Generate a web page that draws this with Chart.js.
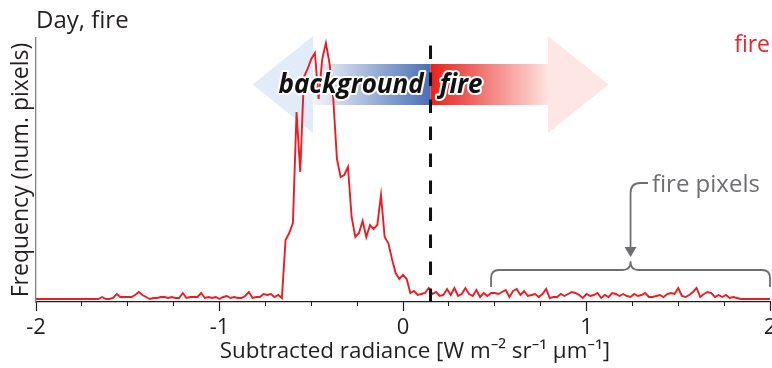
<!DOCTYPE html>
<html>
<head>
<meta charset="utf-8">
<script src="https://cdn.jsdelivr.net/npm/chart.js@4.4.1/dist/chart.umd.min.js"></script>
<style>
  html, body { margin: 0; padding: 0; background: #fff; }
  #wrap { width: 772px; height: 368px; }
</style>
</head>
<body>
<div id="wrap"><canvas id="chart" width="772" height="368"></canvas></div>
<script>
// Histogram of subtracted radiance, 0.02-wide bins from -2 to 2
const binStart = -2;
const binWidth = 0.02;
const pixelCounts = [
  0, 0, 0, 0, 0, 0, 0, 0, 0, 0, 0, 0, 0, 0, 0, 0, 0, 0,
  2, 0, 0, 1, 5, 2, 2, 2, 2, 4, 7, 4, 2, 0, 1, 1, 2, 2, 1, 2, 1, 1, 6, 1, 2, 2, 2, 6, 1, 2, 1, 2,
  0, 2, 3, 1, 2, 1, 1, 3, 7, 1, 2, 2, 5, 4, 5, 2, 4, 1,
  59, 66, 76, 187, 127, 222, 230, 240, 246, 200, 240, 256, 235, 200, 140, 122, 124, 132,
  82, 62, 66, 78, 62, 74, 70, 74, 104, 62, 56, 40, 26, 20, 24, 20, 6, 8,
  4, 5, 6, 11, 5, 7, 3, 4, 10, 4, 11, 3, 5, 11, 5, 3, 9, 2, 6, 3, 6, 6, 5, 7, 9, 2, 8, 10, 4, 8,
  3, 4, 5, 2, 5, 10, 1, 2, 2, 5, 3, 5, 7, 6, 4, 1, 5, 3, 4, 6, 1, 4, 2, 6, 5, 3, 5, 3, 2, 5, 3, 4, 6, 2,
  2, 3, 4, 2, 5, 6, 5, 11, 3, 2, 4, 7, 11, 2, 5, 7, 6, 2, 4, 2, 4, 1, 2, 1,
  0, 0, 0, 0, 0, 0, 0, 0, 0
];
const xMajorTicks = [-2, -1, 0, 1, 2];
const thresholdRadiance = 0.15;

// annotation anchors, in data units
const bgArrow = { tip: -0.82, headBase: -0.49, end: thresholdRadiance };
const fireArrow = { start: thresholdRadiance, headBase: 0.79, tip: 1.12 };
const arrowBand = { center: 214.5, shaftHalf: 20.5, headHalf: 48.5 };
const firePixelsRange = [0.48, 2.0];
const firePixelsMid = 1.24;

const FONT = '"Open Sans", "Noto Sans", sans-serif';
const TEXT = '#231f20';
const GREY = '#6d6e71';

const points = pixelCounts.map((c, i) => ({ x: binStart + i * binWidth, y: c }));

const annotations = {
  id: 'annotations',
  beforeDatasetsDraw(chart) {
    const { ctx } = chart;
    const xs = chart.scales.x, ys = chart.scales.y;
    const yc = ys.getPixelForValue(arrowBand.center);
    const sh = ys.getPixelForValue(arrowBand.center - arrowBand.shaftHalf) - yc;
    const hh = ys.getPixelForValue(arrowBand.center - arrowBand.headHalf) - yc;

    ctx.save();
    // background arrow (points left)
    let tip = xs.getPixelForValue(bgArrow.tip);
    let base = xs.getPixelForValue(bgArrow.headBase);
    let end = xs.getPixelForValue(bgArrow.end);
    ctx.fillStyle = '#e1ecf8';
    ctx.beginPath();
    ctx.moveTo(tip, yc);
    ctx.lineTo(base, yc - hh);
    ctx.lineTo(base, yc + hh);
    ctx.closePath();
    ctx.fill();
    let g = ctx.createLinearGradient(base, 0, end, 0);
    g.addColorStop(0, '#f3f6fb');
    g.addColorStop(1, '#4a6fb6');
    ctx.fillStyle = g;
    ctx.fillRect(base - 0.5, yc - sh, end - base + 0.5, 2 * sh);

    // fire arrow (points right)
    tip = xs.getPixelForValue(fireArrow.tip);
    base = xs.getPixelForValue(fireArrow.headBase);
    const start = xs.getPixelForValue(fireArrow.start);
    g = ctx.createLinearGradient(start, 0, base, 0);
    g.addColorStop(0, '#e8211c');
    g.addColorStop(1, '#fde3df');
    ctx.fillStyle = g;
    ctx.fillRect(start, yc - sh, base - start + 0.5, 2 * sh);
    ctx.fillStyle = '#fde6e3';
    ctx.beginPath();
    ctx.moveTo(tip, yc);
    ctx.lineTo(base, yc - hh);
    ctx.lineTo(base, yc + hh);
    ctx.closePath();
    ctx.fill();
    ctx.restore();
  },
  afterDatasetsDraw(chart) {
    const { ctx, chartArea } = chart;
    const xs = chart.scales.x, ys = chart.scales.y;
    ctx.save();

    // arrow captions with white halo
    const yc = ys.getPixelForValue(arrowBand.center);
    ctx.font = 'italic bold 26px ' + FONT;
    ctx.textBaseline = 'middle';
    ctx.lineJoin = 'round';
    ctx.strokeStyle = '#fff';
    ctx.lineWidth = 4;
    ctx.fillStyle = '#111';
    ctx.textAlign = 'center';
    const bx = xs.getPixelForValue(-0.283);
    ctx.strokeText('background', bx, yc + 1);
    ctx.fillText('background', bx, yc + 1);
    ctx.textAlign = 'left';
    const fx = xs.getPixelForValue(0.2);
    ctx.strokeText('fire', fx, yc + 1);
    ctx.fillText('fire', fx, yc + 1);

    // threshold
    const tx = xs.getPixelForValue(thresholdRadiance);
    ctx.strokeStyle = '#111';
    ctx.lineWidth = 3;
    ctx.setLineDash([13.5, 13.5]);
    ctx.beginPath();
    ctx.moveTo(tx, chartArea.bottom);
    ctx.lineTo(tx, chartArea.top + 1);
    ctx.stroke();
    ctx.setLineDash([]);

    // brace under "fire pixels"
    const x0 = xs.getPixelForValue(firePixelsRange[0]);
    const x1 = xs.getPixelForValue(firePixelsRange[1]);
    const xm = xs.getPixelForValue(firePixelsMid);
    const yEnd = ys.getPixelForValue(12);
    const yBar = ys.getPixelForValue(29);
    const yTip = ys.getPixelForValue(37);
    const r = 8;
    ctx.strokeStyle = GREY;
    ctx.lineWidth = 1.8;
    ctx.beginPath();
    ctx.moveTo(x0, yEnd);
    ctx.lineTo(x0, yBar + r);
    ctx.quadraticCurveTo(x0, yBar, x0 + r, yBar);
    ctx.lineTo(xm - r, yBar);
    ctx.quadraticCurveTo(xm, yBar, xm, yTip);
    ctx.quadraticCurveTo(xm, yBar, xm + r, yBar);
    ctx.lineTo(x1 - r, yBar);
    ctx.quadraticCurveTo(x1, yBar, x1, yBar + r);
    ctx.lineTo(x1, yEnd);
    ctx.stroke();

    // "fire pixels" label and pointer
    const ly = ys.getPixelForValue(116);
    const lx = xs.getPixelForValue(1.335);
    const headTip = ys.getPixelForValue(42);
    const headBase = ys.getPixelForValue(52);
    ctx.beginPath();
    ctx.moveTo(lx, ly);
    ctx.lineTo(xm + 10, ly);
    ctx.quadraticCurveTo(xm, ly, xm, ly + 10);
    ctx.lineTo(xm, headBase);
    ctx.stroke();
    ctx.fillStyle = GREY;
    ctx.beginPath();
    ctx.moveTo(xm, headTip);
    ctx.lineTo(xm - 6, headBase);
    ctx.lineTo(xm + 6, headBase);
    ctx.closePath();
    ctx.fill();
    ctx.font = '24px ' + FONT;
    ctx.textAlign = 'left';
    ctx.textBaseline = 'alphabetic';
    ctx.fillText('fire pixels', lx + 4, ys.getPixelForValue(107));

    // panel titles
    ctx.font = '24px ' + FONT;
    ctx.fillStyle = TEXT;
    ctx.fillText('Day, fire', chartArea.left, 28);
    ctx.font = '23px ' + FONT;
    ctx.fillStyle = '#e8232a';
    ctx.textAlign = 'right';
    ctx.fillText('fire', chart.width - 2, 52);

    // x axis title, sits a little right of the axis centre in the original
    ctx.font = '22.4px ' + FONT;
    ctx.fillStyle = TEXT;
    ctx.textAlign = 'center';
    ctx.textBaseline = 'middle';
    ctx.fillText('Subtracted radiance [W m⁻² sr⁻¹ µm⁻¹]', xs.getPixelForValue(0.065), chart.height - 16.5);
    ctx.restore();
  }
};

function build() {
  new Chart(document.getElementById('chart'), {
    type: 'line',
    data: {
      datasets: [{
        data: points,
        borderColor: '#ed1c24',
        borderWidth: 1.9,
        pointRadius: 0,
        tension: 0,
        fill: false
      }]
    },
    options: {
      responsive: false,
      animation: false,
      devicePixelRatio: 1,
      layout: { padding: { top: 38, right: 2, left: 0, bottom: 0 } },
      plugins: { legend: { display: false }, tooltip: { enabled: false } },
      scales: {
        x: {
          type: 'linear', min: -2, max: 2, position: 'bottom', weight: 1,
          afterBuildTicks: s => { s.ticks = xMajorTicks.map(v => ({ value: v })); },
          ticks: {
            font: { family: FONT, size: 22 }, color: TEXT, padding: 4,
            maxRotation: 0, autoSkip: false, callback: v => String(v)
          },
          grid: { drawOnChartArea: false, tickLength: 9, tickColor: TEXT, tickWidth: 1.2 },
          border: { color: TEXT, width: 1.3 },
          title: { display: false },
          afterFit: s => { s.height = 66; s.paddingLeft = 0; s.paddingRight = 0; }
        },
        xMinor: {
          type: 'linear', min: -2, max: 2, position: 'bottom', weight: 0,
          ticks: { display: false, stepSize: 0.25 },
          grid: { drawOnChartArea: false, tickLength: 4, tickColor: TEXT, tickWidth: 1 },
          border: { display: false },
          afterFit: s => { s.height = 0; s.paddingLeft = 0; s.paddingRight = 0; }
        },
        y: {
          min: -3, max: 261,
          ticks: { display: false },
          grid: { display: false, drawTicks: false },
          border: { color: '#808285', width: 1.3 },
          title: {
            display: true, text: 'Frequency (num. pixels)',
            font: { family: FONT, size: 23 }, color: TEXT, padding: { top: 8, bottom: 0 }
          },
          afterFit: s => { s.width = 36; }
        }
      }
    },
    plugins: [annotations]
  });
}

Promise.all([
  document.fonts.load('20px "Open Sans"'),
  document.fonts.load('italic bold 24px "Open Sans"')
]).then(build, build);
</script>
</body>
</html>
